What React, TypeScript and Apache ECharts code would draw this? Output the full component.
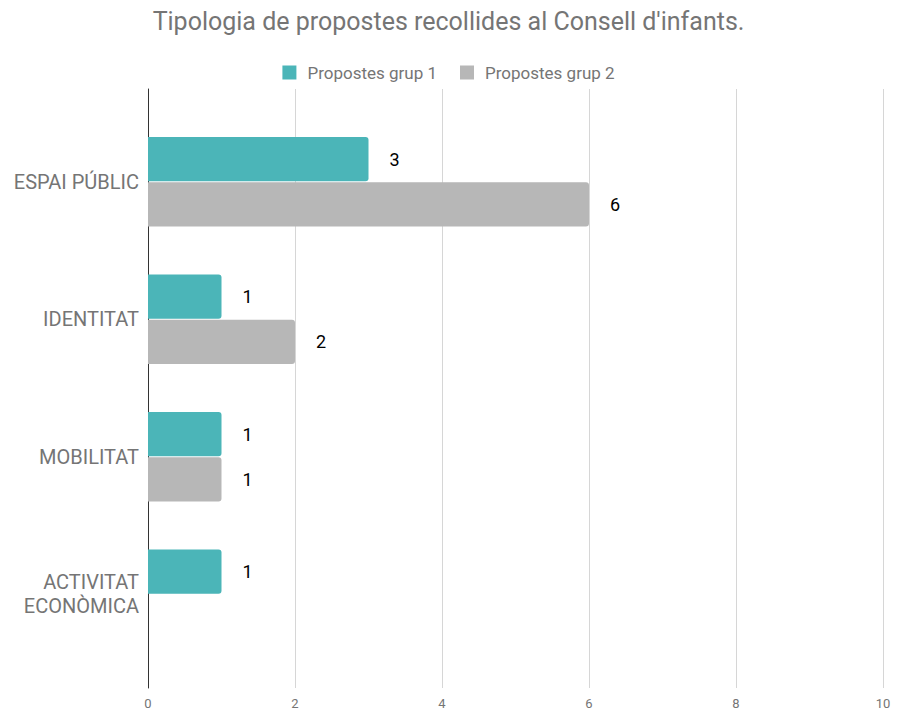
import React, { useEffect, useRef } from "react";
import * as echarts from "echarts";

const categories = ["ESPAI PÚBLIC", "IDENTITAT", "MOBILITAT", "ACTIVITAT\nECONÒMICA"];
const grup1 = [3, 1, 1, 1];
const grup2: (number | null)[] = [6, 2, 1, null];
const seriesNames = ["Propostes grup 1", "Propostes grup 2"];
const xMin = 0;
const xMax = 10;
const xInterval = 2;

export default function App() {
  const ref = useRef<HTMLDivElement>(null);
  useEffect(() => {
    if (!ref.current) return;
    const chart = echarts.init(ref.current, undefined, { renderer: "svg" });
    const font = "Roboto, 'Noto Sans', sans-serif";
    const barLabel = {
      show: true,
      position: "right",
      distance: 21,
      color: "#000",
      fontSize: 18,
      fontFamily: font,
    };
    chart.setOption({
      animation: false,
      textStyle: { fontFamily: font },
      title: {
        text: "Tipologia de propostes recollides al Consell d'infants.",
        left: "center",
        top: 4,
        textStyle: { fontSize: 25, fontWeight: "normal", color: "#757575", fontFamily: font },
      },
      legend: {
        top: 59,
        left: "center",
        icon: "rect",
        itemWidth: 14,
        itemHeight: 14,
        itemGap: 23,
        textStyle: { fontSize: 17, color: "#757575", fontFamily: font, padding: [0, 0, 0, 6] },
        data: seriesNames,
      },
      grid: [
        { left: 148, right: 14, top: 89, bottom: 22 },
        { left: 148, right: 14, top: 113, height: 550 },
      ],
      xAxis: [
        {
          gridIndex: 0,
          type: "value",
          min: xMin,
          max: xMax,
          interval: xInterval,
          axisLine: { show: false },
          axisTick: { show: false },
          axisLabel: { color: "#757575", fontSize: 13, margin: 9, fontFamily: font },
          splitLine: { show: true, lineStyle: { color: "#d6d6d6", width: 1 } },
        },
        {
          gridIndex: 1,
          type: "value",
          min: xMin,
          max: xMax,
          interval: xInterval,
          show: false,
          splitLine: { show: false },
        },
      ],
      yAxis: [
        {
          gridIndex: 0,
          type: "category",
          data: [""],
          axisLine: { show: true, lineStyle: { color: "#333", width: 1 } },
          axisTick: { show: false },
          axisLabel: { show: false },
          splitLine: { show: false },
        },
        {
          gridIndex: 1,
          type: "category",
          inverse: true,
          data: categories,
          axisLine: { show: false },
          axisTick: { show: false },
          axisLabel: {
            color: "#757575",
            fontSize: 20,
            margin: 9,
            lineHeight: 24,
            align: "right",
            fontFamily: font,
          },
          splitLine: { show: false },
        },
      ],
      series: [
        {
          name: seriesNames[0],
          type: "bar",
          xAxisIndex: 1,
          yAxisIndex: 1,
          data: grup1,
          barGap: "2%",
          barCategoryGap: "35%",
          itemStyle: { color: "#4bb5b8", borderRadius: [0, 3, 3, 0] },
          label: barLabel,
          z: 1,
        },
        {
          name: seriesNames[1],
          type: "bar",
          xAxisIndex: 1,
          yAxisIndex: 1,
          data: grup2,
          barGap: "2%",
          barCategoryGap: "35%",
          itemStyle: { color: "#b7b7b7", borderRadius: [0, 3, 3, 0] },
          label: barLabel,
          z: 1,
        },
      ],
    });
    return () => chart.dispose();
  }, []);
  return (
    <div
      ref={ref}
      style={{ position: "fixed", left: 0, top: 0, width: 897, height: 710, background: "#fff" }}
    />
  );
}
